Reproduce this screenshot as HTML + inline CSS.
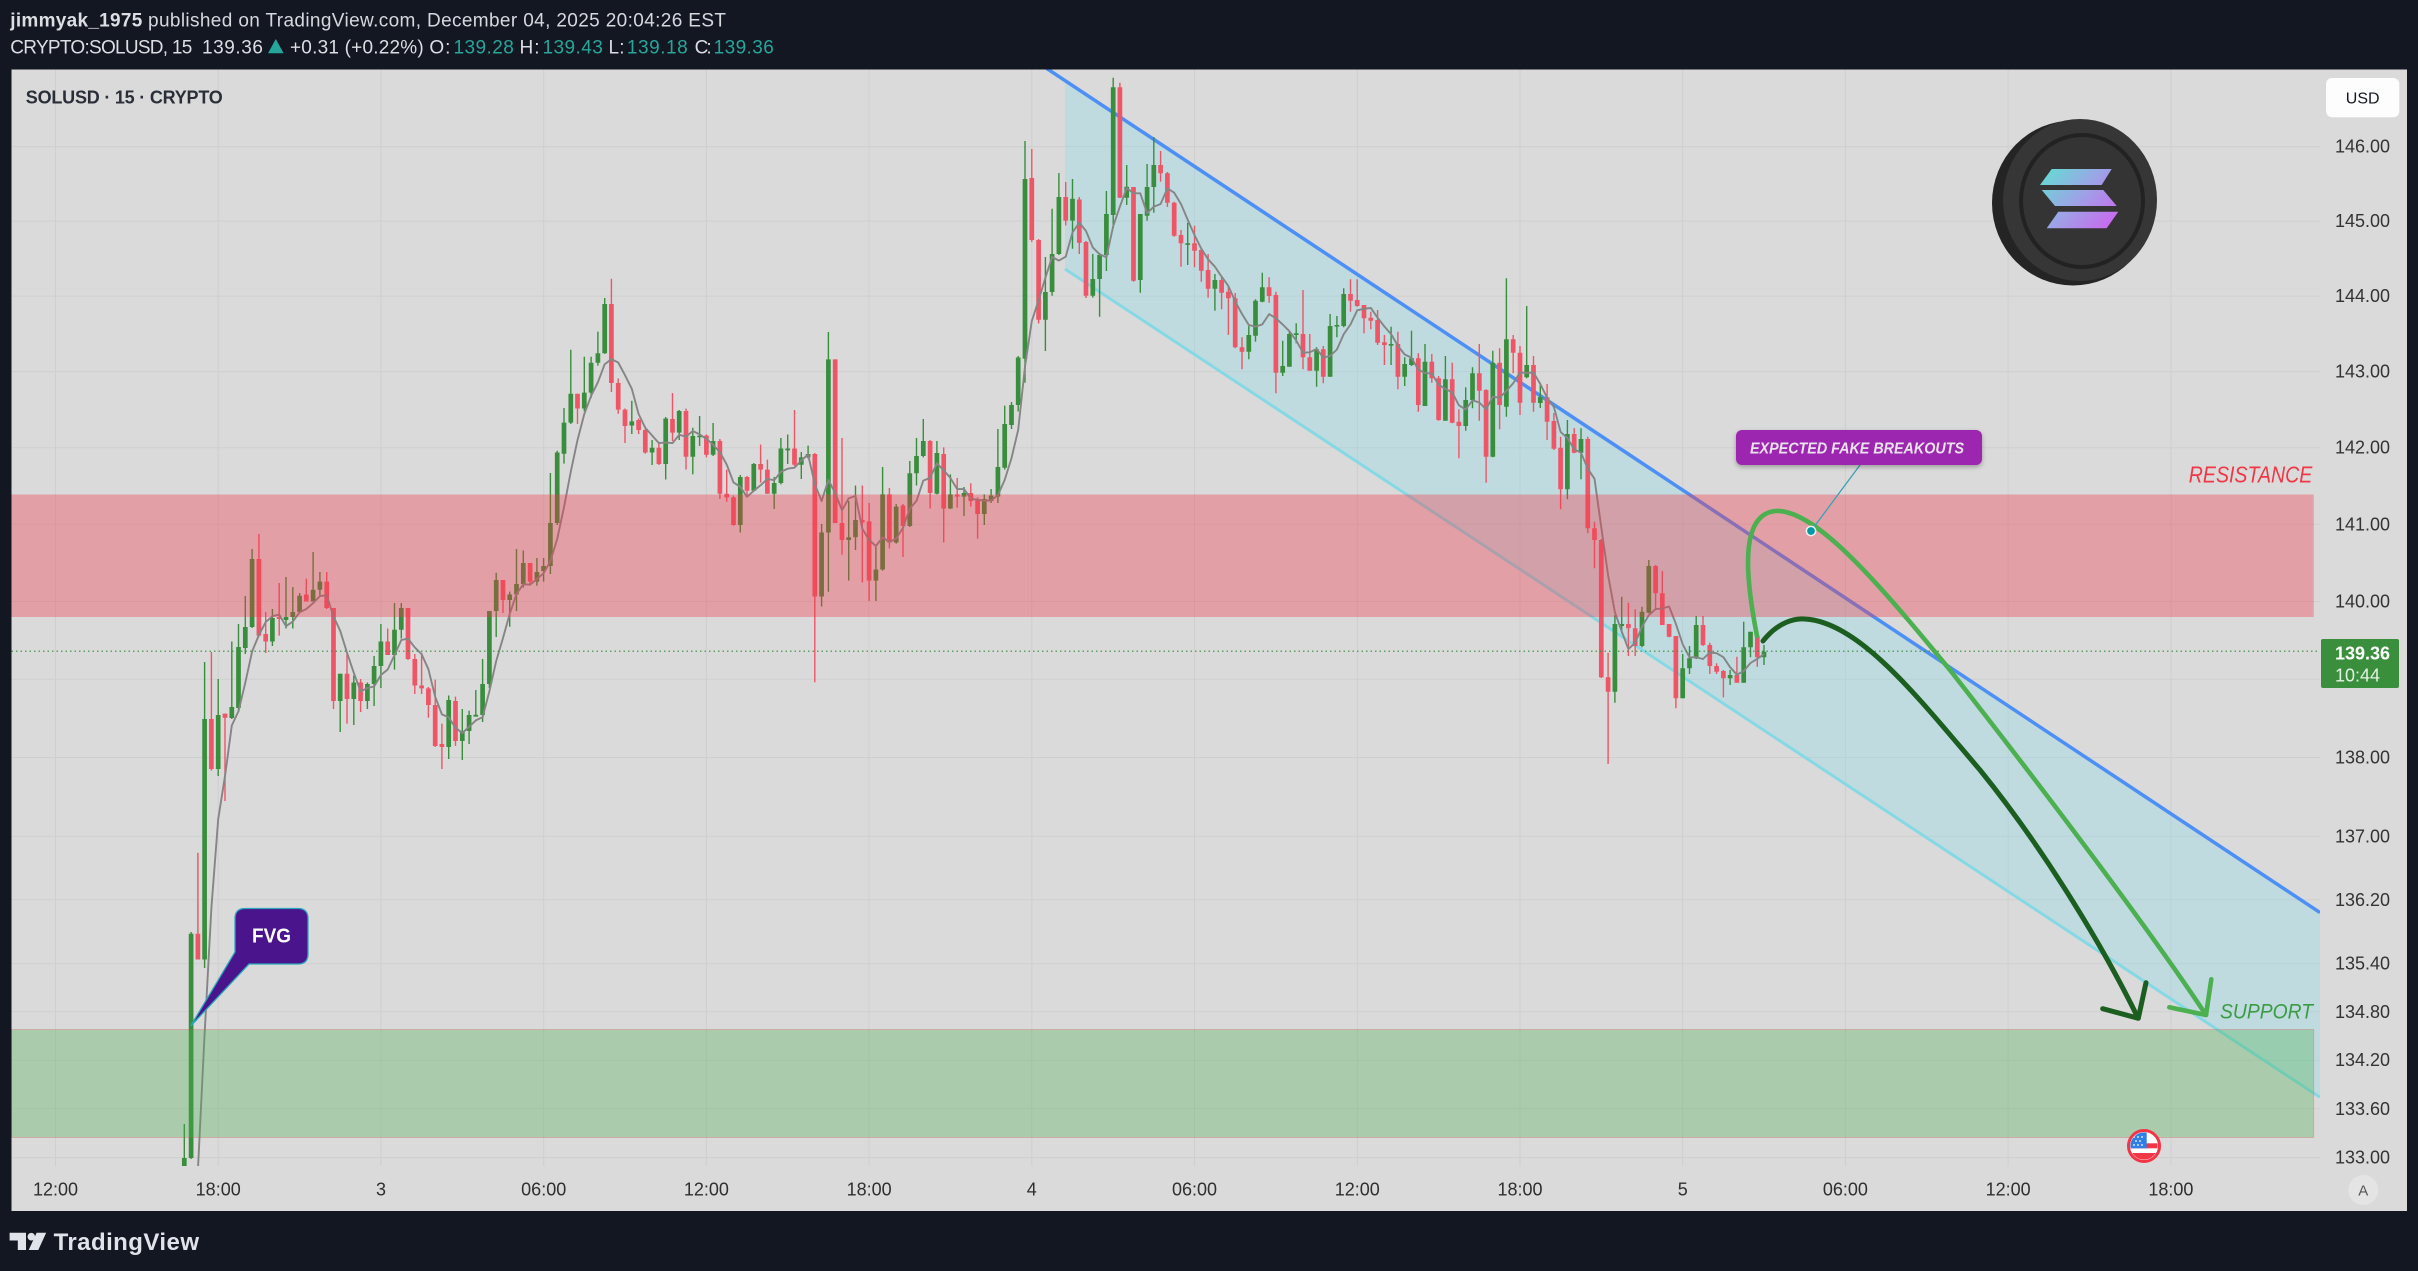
<!DOCTYPE html>
<html><head><meta charset="utf-8"><style>
html,body{margin:0;padding:0;background:#131722;overflow:hidden;width:2418px;height:1271px}
svg{display:block}
text{font-family:"Liberation Sans",Arial,sans-serif}
</style></head><body>
<svg xmlns="http://www.w3.org/2000/svg" width="2418" height="1271" viewBox="0 0 2418 1271">
<defs>
<clipPath id="plot"><rect x="11.5" y="69.5" width="2308.5" height="1096.5"/></clipPath>
<clipPath id="flagc"><circle cx="2144" cy="1146" r="13.6"/></clipPath>
<linearGradient id="sol" gradientUnits="userSpaceOnUse" x1="2045" y1="165" x2="2118" y2="232">
<stop offset="0" stop-color="#5fe0d2"/><stop offset="0.45" stop-color="#9aa6e6"/><stop offset="1" stop-color="#d35cf0"/>
</linearGradient>
<filter id="sh" x="-10%" y="-30%" width="120%" height="170%"><feDropShadow dx="0" dy="2" stdDeviation="2.5" flood-color="#000" flood-opacity="0.3"/></filter>
</defs>
<rect width="2418" height="1271" fill="#131722"/>
<!-- header -->
<text x="10.3" y="26.7" font-size="19" font-weight="bold" fill="#dcdee3" textLength="132">jimmyak_1975</text>
<text x="148" y="26.7" font-size="19" fill="#d6d8de" textLength="578">published on TradingView.com, December 04, 2025 20:04:26 EST</text>
<text x="10.3" y="53.3" font-size="19" fill="#dcdee3" textLength="182">CRYPTO:SOLUSD, 15</text>
<text x="202" y="53.3" font-size="19" fill="#dcdee3" textLength="61">139.36</text>
<polygon points="268,53.3 283.6,53.3 275.8,39" fill="#26a69a"/>
<text x="290" y="53.3" font-size="19" fill="#dcdee3" textLength="133.7">+0.31 (+0.22%)</text>
<text x="429.4" y="53.3" font-size="19" fill="#dcdee3" textLength="21">O:</text>
<text x="453.5" y="53.3" font-size="19" fill="#26a69a" textLength="60.3">139.28</text>
<text x="519.5" y="53.3" font-size="19" fill="#dcdee3" textLength="20">H:</text>
<text x="542.5" y="53.3" font-size="19" fill="#26a69a" textLength="60.3">139.43</text>
<text x="608.5" y="53.3" font-size="19" fill="#dcdee3" textLength="16">L:</text>
<text x="626.9" y="53.3" font-size="19" fill="#26a69a" textLength="60.8">139.18</text>
<text x="694.6" y="53.3" font-size="19" fill="#dcdee3" textLength="17">C:</text>
<text x="713.6" y="53.3" font-size="19" fill="#26a69a" textLength="60.2">139.36</text>
<!-- pane -->
<rect x="11.5" y="69.5" width="2395.5" height="1141.5" fill="#dadada"/>
<g stroke="#cfcfcf" stroke-width="1">
<path d="M55.5 69.5V1166M218.2 69.5V1166M381 69.5V1166M543.7 69.5V1166M706.4 69.5V1166M869.1 69.5V1166M1031.8 69.5V1166M1194.5 69.5V1166M1357.3 69.5V1166M1520 69.5V1166M1682.7 69.5V1166M1845.4 69.5V1166M2008.1 69.5V1166M2170.9 69.5V1166"/>
<path d="M11.5 146.6H2320M11.5 221.1H2320M11.5 296.1H2320M11.5 371.6H2320M11.5 447.7H2320M11.5 524.3H2320M11.5 601.5H2320M11.5 679.2H2320M11.5 757.5H2320M11.5 836.3H2320M11.5 899.8H2320M11.5 963.7H2320M11.5 1011.8H2320M11.5 1060.2H2320M11.5 1108.8H2320M11.5 1157.6H2320"/>
</g>
<g clip-path="url(#plot)">
<polygon points="1065,80.6 2320,912.6 2320,1097.3 1065,269" fill="rgba(128,222,234,0.3)"/>
<line x1="1065" y1="269" x2="2320" y2="1097.3" stroke="#86d9e4" stroke-width="3"/>
<line x1="1040" y1="64" x2="2320" y2="912.6" stroke="#4d8ff5" stroke-width="3.5"/>
<!-- green wicks -->
<path stroke="#388e3c" stroke-width="1.4" fill="none" d="M184.3 1124V1167M191.1 932V1159M204.6 662V968M218.2 679V776M231.8 641.5V719M238.5 624V712M245.3 596V654M252.1 549V628M272.4 609V646M286 577V628.5M292.8 587V628.5M299.6 593V613M313.1 552V601.5M319.9 572V597M340.2 673.7V732M353.8 675.5V725M367.4 682.5V709M374.1 656V706M380.9 624V688M394.5 603V669.6M401.3 603V638.5M448.7 695.5V759M462.3 709V760M469.1 710.7V744M475.8 690V716.6M482.6 659V722M489.4 611V688M496.2 572.8V637M509.7 591.6V626.8M516.5 549V611M523.3 550.5V587.5M536.9 558V585.7M543.6 558V581.6M550.4 473V574M557.2 450.7V525M564 408V463.6M570.8 349.8V424M584.3 356.8V411.4M591.1 356.8V398M597.9 331.6V365.6M604.7 298V353.9M631.8 400.8V434M652.1 440V465M665.7 417V479.5M679.2 410V440M692.8 427.8V474.4M699.6 416V446M713.1 423V456M740.3 475V532.5M753.8 463V491.8M774.2 477V509M780.9 438V484.4M787.7 434.5V464M801.3 452V479M808.1 445.6V458.5M821.6 524V606.5M828.4 332V591.7M848.7 501V580.6M855.5 485.5V550M875.9 547V601M882.6 467V570.6M896.2 504V543.6M909.8 461V527M916.5 438V485.5M923.3 419V457.4M936.9 441V494.4M950.4 474.4V509M964 487V516M984.3 494.4V525M991.1 489V503M997.9 429V503M1004.7 405.6V469.6M1011.5 402V429M1018.2 356V411.5M1025 141V382.7M1045.4 257V351M1052.1 208.8V295.7M1058.9 173V255M1072.5 179V248.7M1092.8 254V297.6M1099.6 253V316.8M1106.4 191V271M1113.2 77.7V228M1126.7 165V205M1140.3 214V292.7M1147.1 164V220.7M1153.8 137V212.7M1187.7 222.7V265M1214.9 274V310.7M1248.8 326V359.3M1255.5 299.3V341.7M1262.3 272.7V302.3M1282.7 340.7V376M1289.4 331.7V366.7M1296.2 323.3V343.3M1316.6 347.3V386.7M1330.1 314V376.7M1336.9 316V337.3M1343.7 288.3V327.3M1391.1 326.7V365M1404.7 357.3V386M1411.5 330.7V366M1425 344V406M1445.4 356V420.7M1465.7 387.3V430.7M1472.5 367.3V408.3M1492.8 350.7V457.3M1506.4 278.3V416.7M1526.7 306V378.3M1540.3 384V408M1567.4 420V499.3M1581 428.3V479.3M1614.9 615V702.7M1621.7 596.7V633.3M1642 606.7V647.3M1648.8 560V613.3M1682.7 654V698.3M1689.5 646V674M1696.2 616V659M1730.1 670V685M1743.7 621.7V682.7M1750.5 631.7V657.3M1764 645V665"/>
<!-- red wicks -->
<path stroke="#ef5566" stroke-width="1.4" fill="none" d="M197.9 852.7V959.5M211.4 652V770.6M225 713.6V801M258.9 534V636.8M265.7 612V653M279.2 583V635.6M306.3 578.7V601.5M326.7 572V609M333.5 608V709M347 654V723.6M360.6 679V712M387.7 628.5V655M408 608V660M414.8 654V694M421.6 653V694M428.4 687V717.7M435.2 679.6V747M441.9 723.6V769M455.5 696.6V746M503 580V613M530.1 563V585.7M577.5 393.8V424M611.4 278.8V392M618.2 378.5V413.8M625 408.5V443M638.6 418.5V434M645.3 429V453.7M658.9 442V465M672.5 393V441M686 408.6V469.6M706.4 434.5V457.4M719.9 439V499M726.7 469.6V501.8M733.5 495.5V525.8M747 476V495.5M760.6 444.5V482.6M767.4 459.6V493.7M794.5 410V466M814.8 453V682.3M835.2 359.4V523M842 438V554.7M862.3 485.5V582.5M869.1 503V601M889.4 488V548.4M903 504V557M930.1 440V508.5M943.7 447.4V542.5M957.2 478V507.7M970.8 483.3V506.6M977.6 497.4V538.8M1031.8 149V242M1038.6 239V323.5M1065.7 182V225.4M1079.3 197V254M1086 241V298M1119.9 82.7V198M1133.5 187V281.7M1160.6 151V181.7M1167.4 172V207M1174.2 201.7V236.7M1181 230V266.7M1194.5 225.7V267.3M1201.3 249V281.7M1208.1 254V297.7M1221.6 276V309.3M1228.4 286V335M1235.2 293V348.3M1242 337.3V369.3M1269.1 277.3V302.7M1275.9 291.7V393.3M1303 290V369.3M1309.8 334V370.7M1323.3 346V383.3M1350.5 279.3V311.7M1357.2 279.3V306.7M1364 305V333.3M1370.8 311.7V329.3M1377.6 310V345M1384.4 335V365M1397.9 331.7V389.3M1418.3 353.3V411.7M1431.8 354V382.7M1438.6 376V420.7M1452.2 362.7V423.3M1458.9 409.3V458.3M1479.3 344V420.7M1486.1 389.3V482.7M1499.6 348.3V429.3M1513.2 335V373.3M1520 346V415M1533.5 356V411.7M1547.1 384V440M1553.9 413V450M1560.6 436.7V509.3M1574.2 428V453.3M1587.8 436.7V533.3M1594.5 521.7V568.3M1601.3 539V678M1608.1 652.7V764M1628.4 602.7V656M1635.2 609.3V656M1655.6 565V609.3M1662.3 571V625M1669.1 624V637.3M1675.9 636V708.3M1703 616V646M1709.8 642.7V674M1716.6 663.3V674M1723.4 670V697.3M1736.9 656.7V682.7M1757.3 635V666.7"/>
<!-- green bodies -->
<path stroke="#388e3c" stroke-width="4.7" fill="none" d="M184.3 1158V1167M191.1 933.7V1158M204.6 719V959.5M218.2 715V769M231.8 707V718M238.5 647V708M245.3 627V648M252.1 559V627M272.4 618V641.5M286 617V620M292.8 612V617M299.6 595.7V612M313.1 589.8V601.5M319.9 581.6V589.8M340.2 673.7V701M353.8 682.5V699M367.4 684V701M374.1 666V684M380.9 641.5V666M394.5 629.7V655M401.3 608V629.7M448.7 700V747M462.3 731V741M469.1 715V731M475.8 714.8V716.6M482.6 684V715M489.4 611V684M496.2 580V611M509.7 594.5V600M516.5 584V594.5M523.3 563V584M536.9 572V581.6M543.6 566V571M550.4 523V566M557.2 452.5V523M564 422.6V453.7M570.8 393.8V422.6M584.3 392.6V408.5M591.1 362.7V392.6M597.9 353.3V362.7M604.7 304V353.3M631.8 421.4V425.5M652.1 447.8V452.5M665.7 418.5V464M679.2 411V432.6M692.8 436V456.7M699.6 435.6V437.2M713.1 441V454.8M740.3 477V525M753.8 464V490.7M774.2 483V493.7M780.9 448.5V483M787.7 448.5V450.4M801.3 457.4V464.8M808.1 454V457.4M821.6 532.5V596.5M828.4 359.4V532.5M848.7 537.3V540M855.5 520V537.3M875.9 569.5V580.6M882.6 494.4V569.5M896.2 506.6V542.5M909.8 473.3V526M916.5 456V473.3M923.3 441V456M936.9 453V493.7M950.4 494.4V508.5M964 493V496.6M984.3 499V514M991.1 495.5V501M997.9 467V496.6M1004.7 424V467.8M1011.5 405V425M1018.2 357.5V405M1025 179V358.6M1045.4 292V319.8M1052.1 254V292M1058.9 197V254M1072.5 198.8V220.6M1092.8 279V295.7M1099.6 255V279M1106.4 214V255M1113.2 87.3V215M1126.7 186.7V197.7M1140.3 214V280M1147.1 187V215.7M1153.8 165V187M1187.7 243.3V244.9M1214.9 280V288.7M1248.8 335V351.7M1255.5 300.7V335.7M1262.3 287.3V301.7M1282.7 366V372.7M1289.4 334V366.7M1296.2 333.3V335M1316.6 349.3V370.7M1330.1 326V376.7M1336.9 325V326.6M1343.7 294V326M1391.1 344V345.6M1404.7 364V376.7M1411.5 358.3V365M1425 361.7V406M1445.4 379.3V420.7M1465.7 400V426M1472.5 373.3V400M1492.8 362.7V456.7M1506.4 339.3V406.7M1526.7 365V377.3M1540.3 397V403M1567.4 434V489.3M1581 439V452.7M1614.9 624V691.7M1621.7 624V626M1642 611.7V646M1648.8 566V612.7M1682.7 668.3V698.3M1689.5 658.3V668.3M1696.2 625V658.3M1730.1 675V678.3M1743.7 647.3V682.7M1750.5 631.7V647.3M1764 651.7V657.3"/>
<!-- red bodies -->
<path stroke="#ef5566" stroke-width="4.7" fill="none" d="M197.9 933.7V959.5M211.4 719V769M225 713.6V717.7M258.9 559V635.6M265.7 634V641.5M279.2 617V619M306.3 594.5V601.5M326.7 581.6V608M333.5 608V701M347 673.7V699M360.6 682.5V701M387.7 641.5V655M408 608V659M414.8 659V685.5M421.6 685.5V688.4M428.4 688.4V705M435.2 705V746M441.9 744V747M455.5 701V741M503 580V600M530.1 563V581.6M577.5 393.8V408.5M611.4 304V383M618.2 383V409.6M625 409.6V426M638.6 420V430M645.3 430V452.5M658.9 447.8V464M672.5 419V432.6M686 411V456.7M706.4 435.6V454.8M719.9 441V493.7M726.7 493.7V497.4M733.5 497.4V525M747 477V490.7M760.6 464V469.6M767.4 469.6V493.7M794.5 448.5V464.8M814.8 454V596.5M835.2 359.4V523M842 523V540M862.3 520V522.5M869.1 521.4V580.6M889.4 494.4V542.5M903 505.5V526M930.1 441V493M943.7 454V508.5M957.2 494.4V496.6M970.8 493V501M977.6 500.3V514M1031.8 178V240M1038.6 240V319.8M1065.7 197V220.6M1079.3 199.5V242.8M1086 242V295.7M1119.9 87.3V197.7M1133.5 187V280.7M1160.6 165V173.3M1167.4 173.3V202.7M1174.2 202.7V235.7M1181 235V243.3M1194.5 243.3V250.7M1201.3 250V270.7M1208.1 270V288.7M1221.6 280V292.7M1228.4 291.7V298.3M1235.2 298.3V347.3M1242 347.3V351.7M1269.1 287.3V296M1275.9 295V372.7M1303 334V357.3M1309.8 357.3V370.7M1323.3 349.3V376.7M1350.5 294V300.7M1357.2 300V306M1364 305V318.3M1370.8 317.7V320.7M1377.6 320V342.7M1384.4 342.3V345M1397.9 344V376.7M1418.3 358.3V405M1431.8 361.7V378.3M1438.6 378.3V420M1452.2 379.3V422.7M1458.9 421.7V426M1479.3 373.3V390.7M1486.1 390V456.7M1499.6 362.7V405M1513.2 339.3V352.7M1520 352.7V402.7M1533.5 365V402.7M1547.1 397.3V421.7M1553.9 421V448.7M1560.6 447.7V489.3M1574.2 434V452.7M1587.8 439V528.3M1594.5 528.3V540M1601.3 540V677.3M1608.1 677.3V691.7M1628.4 624V628.3M1635.2 628.3V646M1655.6 566V593.3M1662.3 593.3V625M1669.1 624V636.7M1675.9 636V698.3M1703 625V645M1709.8 645V666M1716.6 666V671.7M1723.4 671V678.3M1736.9 675V682.7M1757.3 636V657.3"/>
<!-- moving average -->
<polyline fill="none" stroke="#858585" stroke-width="1.9" stroke-linejoin="round" points="191.1,1258.3 197.9,1170.2 204.6,1034 211.4,907.8 218.2,819.2 225,776 231.8,725.5 238.5,711.1 245.3,682.7 252.1,651.5 258.9,635.1 265.7,622 272.4,616.2 279.2,614.6 286,626.2 292.8,621.5 299.6,612.3 306.3,609 313.1,603.2 319.9,596.1 326.7,595.3 333.5,616.4 340.2,630.8 347,652.7 353.8,672.8 360.6,691.4 367.4,688 374.1,686.5 380.9,675 387.7,669.5 394.5,655.2 401.3,640 408,638.6 414.8,647.4 421.6,654.1 428.4,669.2 435.2,696.8 441.9,714.4 448.7,717.3 455.5,727.8 462.3,733 469.1,726.8 475.8,720.4 482.6,717.2 489.4,691.2 496.2,661 503,638 509.7,613.9 516.5,593.9 523.3,584.3 530.1,584.6 536.9,579 543.6,573.3 550.4,561.1 557.2,539 564,507.2 570.8,471.6 577.5,440.1 584.3,414 591.1,396 597.9,382.2 604.7,364.2 611.4,359.1 618.2,362.5 625,375.2 631.8,388.8 638.6,414 645.3,427.9 652.1,435.5 658.9,443.1 665.7,442.6 672.5,443.1 679.2,434.8 686,436.6 692.8,431 699.6,434.4 706.4,438.8 713.1,444.8 719.9,452.2 726.7,464.5 733.5,482.4 740.3,486.8 747,496.8 753.8,490.8 760.6,485.3 767.4,479 774.2,480.2 780.9,471.8 787.7,468.7 794.5,467.7 801.3,460.4 808.1,454.6 814.8,484.2 821.6,501 828.4,480 835.2,493.1 842,510.3 848.7,498.4 855.5,495.9 862.3,528.6 869.1,540.1 875.9,546 882.6,537.4 889.4,541.9 896.2,538.7 903,527.8 909.8,508.6 916.5,500.9 923.3,480.6 930.1,477.9 936.9,463.3 943.7,470.3 950.4,478 957.2,489.1 964,489.1 970.8,498.7 977.6,499.8 984.3,500.7 991.1,500.5 997.9,495.3 1004.7,479.9 1011.5,458.1 1018.2,429.8 1025,366.5 1031.8,321.1 1038.6,300.3 1045.4,277.7 1052.1,257 1058.9,260.6 1065.7,256.7 1072.5,232.5 1079.3,222.6 1086,231 1092.8,247.4 1099.6,254.3 1106.4,257.3 1113.2,226.2 1119.9,206.6 1126.7,188.1 1133.5,193.3 1140.3,193.3 1147.1,213.2 1153.8,206.7 1160.6,204 1167.4,188.4 1174.2,192.7 1181,204 1187.7,219.7 1194.5,235.1 1201.3,248.7 1208.1,259.3 1214.9,266.7 1221.6,276.6 1228.4,286.1 1235.2,301.4 1242,314 1248.8,325 1255.5,326.6 1262.3,324.4 1269.1,314.1 1275.9,318.3 1282.7,324.5 1289.4,331.2 1296.2,340.4 1303,352.7 1309.8,352.3 1316.6,348.9 1323.3,357.5 1330.1,356 1336.9,349.5 1343.7,334.2 1350.5,324.5 1357.2,310.3 1364,308.8 1370.8,307.9 1377.6,317.7 1384.4,326.5 1391.1,334.1 1397.9,345.8 1404.7,354.5 1411.5,357.6 1418.3,369.6 1425,373.1 1431.8,373.5 1438.6,384.7 1445.4,388.9 1452.2,392.4 1458.9,405.3 1465.7,409.6 1472.5,400.3 1479.3,402.5 1486.1,409.3 1492.8,396.7 1499.6,397.7 1506.4,390.9 1513.2,383.3 1520,372.5 1526.7,372.9 1533.5,372.5 1540.3,384 1547.1,397.8 1553.9,407 1560.6,431.9 1567.4,438.1 1574.2,449.3 1581,452.7 1587.8,468.7 1594.5,478.8 1601.3,527.5 1608.1,575.3 1614.9,612.3 1621.7,631.4 1628.4,649.1 1635.2,642.8 1642,626.8 1648.8,615.2 1655.6,609.1 1662.3,608.4 1669.1,606.5 1675.9,623.9 1682.7,644.3 1689.5,657.3 1696.2,657.3 1703,659 1709.8,652.5 1716.6,653.2 1723.4,657.2 1730.1,667.2 1736.9,674.7 1743.7,671 1750.5,663 1757.3,658.8 1764,654.1"/>
<line x1="11.5" y1="651.2" x2="2320" y2="651.2" stroke="#388e3c" stroke-width="1.2" stroke-dasharray="1.5 3"/>
<rect x="11.5" y="494.5" width="2302.2" height="122.5" fill="rgba(240,56,73,0.36)"/>
<rect x="11.5" y="1029.5" width="2302.2" height="108" fill="rgba(76,175,80,0.33)" stroke="rgba(240,56,73,0.25)" stroke-width="1"/>
<!-- curves -->
<path d="M1757,636 C1745,575 1740,515 1775,511 C1815,508 1880,585 1950,670 C2040,785 2150,930 2206,1015" fill="none" stroke="#4caf50" stroke-width="4.6" stroke-linecap="round"/>
<path d="M2169.3,1007.3 L2206,1015 L2211.3,979.3" fill="none" stroke="#4caf50" stroke-width="4.6" stroke-linecap="round" stroke-linejoin="round"/>
<path d="M1763,641 C1778,622 1795,618 1805,619 C1860,622 1920,700 1980,770 C2045,850 2105,950 2138,1018" fill="none" stroke="#1b5e20" stroke-width="5" stroke-linecap="round"/>
<path d="M2102.7,1008.7 L2138.3,1018.3 L2146,982.7" fill="none" stroke="#1b5e20" stroke-width="5" stroke-linecap="round" stroke-linejoin="round"/>
<line x1="1811" y1="531" x2="1860" y2="465" stroke="#3d9fb5" stroke-width="1.3"/>
<circle cx="1811" cy="531" r="4.6" fill="#0097a7" stroke="#f2f2f2" stroke-width="1.5"/>
</g>
<!-- annotations -->
<path d="M245,908.5 H298 Q308,908.5 308,918.5 V954 Q308,964 298,964 H249 L190.7,1026 L235,952 V918.5 Q235,908.5 245,908.5 Z" fill="#4a148c" stroke="#2aa6bc" stroke-width="1.3"/>
<text x="271.5" y="942.5" font-size="20" font-weight="bold" fill="#ffffff" text-anchor="middle" textLength="39" lengthAdjust="spacingAndGlyphs">FVG</text>
<rect x="1736" y="430" width="246" height="35" rx="6" fill="#9c27b0" filter="url(#sh)"/>
<text x="1750" y="453.5" font-size="16" font-weight="bold" font-style="italic" fill="#ebe3ee" textLength="214" lengthAdjust="spacingAndGlyphs">EXPECTED FAKE BREAKOUTS</text>
<text x="2188.8" y="482.7" font-size="23" font-style="italic" fill="#f23645" textLength="123.5" lengthAdjust="spacingAndGlyphs">RESISTANCE</text>
<text x="2220" y="1018.3" font-size="21.5" font-style="italic" fill="#3b9b43" textLength="93" lengthAdjust="spacingAndGlyphs">SUPPORT</text>
<!-- coin -->
<ellipse cx="2073" cy="203" rx="81" ry="82.5" fill="#242424"/>
<ellipse cx="2080" cy="200" rx="77" ry="81" fill="#363636"/>
<ellipse cx="2082" cy="201" rx="61" ry="66" fill="#343434" stroke="#222" stroke-width="4"/>
<polygon points="2051.7,169 2111.7,169 2101.7,185 2040,185" fill="url(#sol)"/>
<polygon points="2041.7,190 2103.3,190 2116.7,206 2055,206" fill="url(#sol)"/>
<polygon points="2058.3,211.7 2118.3,211.7 2106.7,228.3 2046.7,228.3" fill="url(#sol)"/>
<!-- flag -->
<circle cx="2144" cy="1146" r="15.5" fill="#fff" stroke="#f23645" stroke-width="3"/>
<g clip-path="url(#flagc)">
<rect x="2128" y="1143.3" width="32" height="5" fill="#f23645"/>
<rect x="2128" y="1153" width="32" height="8" fill="#f23645"/>
<rect x="2129" y="1132" width="17.7" height="16.3" fill="#2f7fe6"/>
<g fill="#fff"><circle cx="2134" cy="1137" r="0.9"/><circle cx="2138" cy="1137" r="0.9"/><circle cx="2142" cy="1137" r="0.9"/><circle cx="2136" cy="1141" r="0.9"/><circle cx="2140" cy="1141" r="0.9"/><circle cx="2134" cy="1145" r="0.9"/><circle cx="2138" cy="1145" r="0.9"/><circle cx="2142" cy="1145" r="0.9"/></g>
</g>
<!-- legend title -->
<text x="25.8" y="103.3" font-size="18" font-weight="bold" fill="#2a2e39" textLength="197">SOLUSD · 15 · CRYPTO</text>
<!-- price axis -->
<rect x="2326" y="78" width="73.3" height="39.3" rx="6" fill="#fdfdfd"/>
<text x="2362.7" y="103.5" font-size="16" fill="#131722" text-anchor="middle">USD</text>
<g font-size="18" fill="#333">
<text x="2335" y="152.6" textLength="55">146.00</text>
<text x="2335" y="227.1" textLength="55">145.00</text>
<text x="2335" y="302.1" textLength="55">144.00</text>
<text x="2335" y="377.6" textLength="55">143.00</text>
<text x="2335" y="453.7" textLength="55">142.00</text>
<text x="2335" y="530.3" textLength="55">141.00</text>
<text x="2335" y="607.5" textLength="55">140.00</text>
<text x="2335" y="763.5" textLength="55">138.00</text>
<text x="2335" y="842.3" textLength="55">137.00</text>
<text x="2335" y="905.8" textLength="55">136.20</text>
<text x="2335" y="969.7" textLength="55">135.40</text>
<text x="2335" y="1017.8" textLength="55">134.80</text>
<text x="2335" y="1066.2" textLength="55">134.20</text>
<text x="2335" y="1114.8" textLength="55">133.60</text>
<text x="2335" y="1163.6" textLength="55">133.00</text>
</g>
<rect x="2321" y="639" width="78" height="49" rx="2" fill="#3a8f3c"/>
<text x="2335" y="659.5" font-size="18" font-weight="bold" fill="#ffffff" textLength="55">139.36</text>
<text x="2335" y="681.4" font-size="18" fill="#e4f2e4" textLength="45">10:44</text>
<circle cx="2363.3" cy="1190" r="15" fill="#e4e4e4"/>
<text x="2363.3" y="1195.5" font-size="15" fill="#555" text-anchor="middle">A</text>
<!-- time axis -->
<g font-size="18" fill="#2f2f2f" text-anchor="middle">
<text x="55.5" y="1195.5">12:00</text>
<text x="218.2" y="1195.5">18:00</text>
<text x="381" y="1195.5">3</text>
<text x="543.7" y="1195.5">06:00</text>
<text x="706.4" y="1195.5">12:00</text>
<text x="869.1" y="1195.5">18:00</text>
<text x="1031.8" y="1195.5">4</text>
<text x="1194.5" y="1195.5">06:00</text>
<text x="1357.3" y="1195.5">12:00</text>
<text x="1520" y="1195.5">18:00</text>
<text x="1682.7" y="1195.5">5</text>
<text x="1845.4" y="1195.5">06:00</text>
<text x="2008.1" y="1195.5">12:00</text>
<text x="2170.9" y="1195.5">18:00</text>
</g>
<!-- footer -->
<g fill="#e1e3ea">
<polygon points="9.6,1232.7 26,1232.7 26,1250 17.8,1250 17.8,1240.5 9.6,1240.5"/>
<circle cx="31.3" cy="1236.7" r="3.8"/>
<polygon points="36.6,1232.7 46.2,1232.7 38.3,1250 28.7,1250"/>
</g>
<text x="53.6" y="1250" font-size="24" font-weight="bold" fill="#e1e3ea" textLength="145.4">TradingView</text>
</svg>
</body></html>
